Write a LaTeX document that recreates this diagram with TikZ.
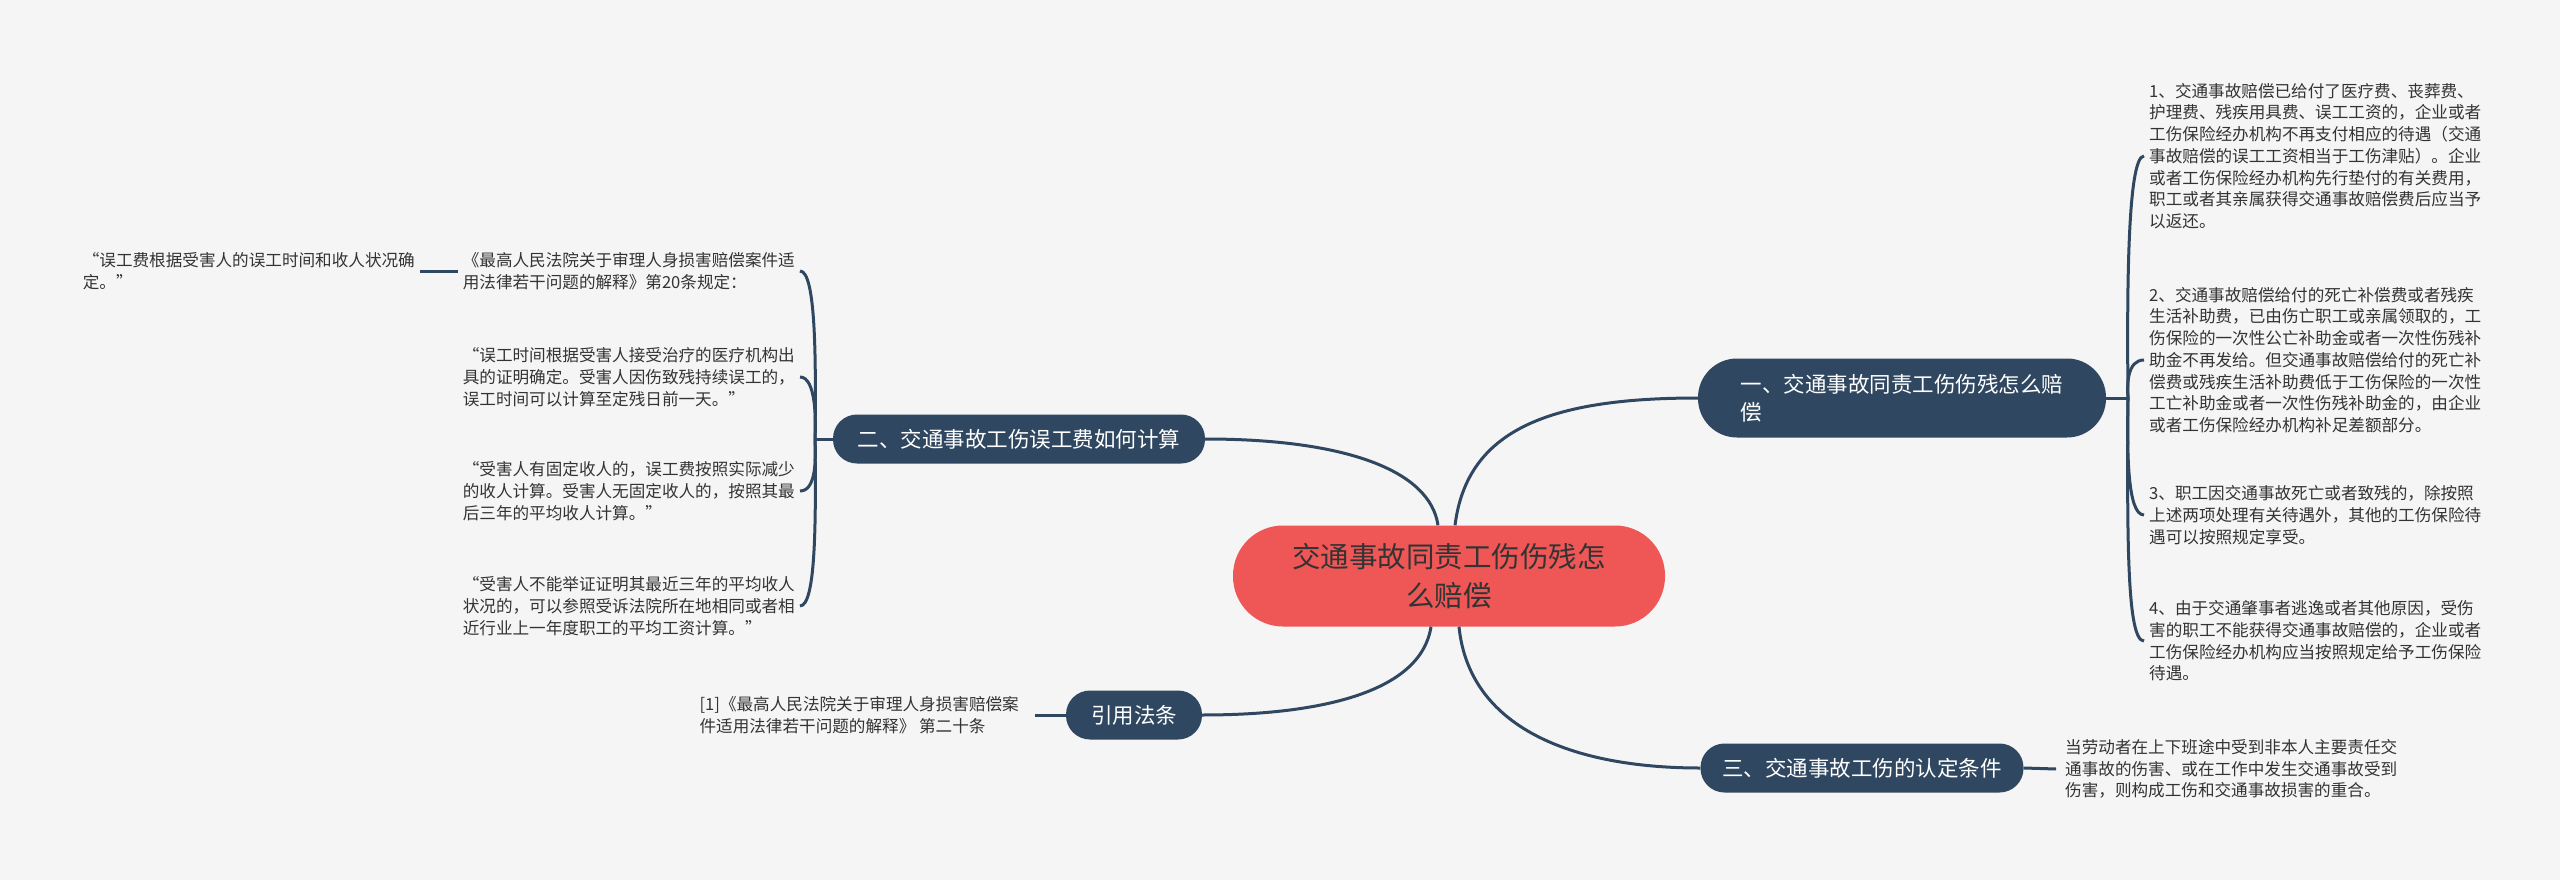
\documentclass[tikz,border=0pt]{standalone}
\usepackage{fontspec}
\setmainfont{Noto Sans CJK SC}
\definecolor{bg}{HTML}{F5F5F5}
\definecolor{navy}{HTML}{2F4760}
\definecolor{redc}{HTML}{EF5656}
\definecolor{txt}{HTML}{333333}
\tikzset{
  conn/.style={draw=navy, line width=3pt},
  topic/.style={fill=navy, text=white, inner sep=0pt, align=left,
    font=\fontsize{21.5}{28}\selectfont, minimum height=49pt, rounded corners=24pt},
  centre/.style={fill=redc, text=txt, inner sep=0pt, align=center,
    font=\fontsize{28.5}{39}\selectfont, minimum width=432pt, minimum height=101pt, rounded corners=50pt},
  leaf/.style={text=txt, inner ysep=0pt, inner xsep=5pt, align=left,
    font=\fontsize{16.6}{21.7}\selectfont}
}
\begin{document}
\begin{tikzpicture}[x=1pt,y=-1pt]
\useasboundingbox (0,0) rectangle (2560,880);
\fill[bg] (0,0) rectangle (2560,880);

% main nodes
\node[centre] (C) at (1449,576) {交通事故同责工伤伤残怎\\么赔偿};
\node[topic, minimum width=408pt, minimum height=79pt, rounded corners=39pt] (N1) at (1902,398) {一、交通事故同责工伤伤残怎么赔\\偿};
\node[topic, minimum width=372pt] (N2) at (1019,439) {二、交通事故工伤误工费如何计算};
\node[topic, minimum width=136pt] (N3) at (1134,715) {引用法条};
\node[topic, minimum width=323pt] (N4) at (1862,768) {三、交通事故工伤的认定条件};

% main connectors
\draw[conn] ([xshift=6pt]C.north) .. controls +(12,-95) and +(-150,0) .. (N1.west);
\draw[conn] ([xshift=-11pt]C.north) .. controls +(-8,-55) and +(140,0) .. (N2.east);
\draw[conn] ([xshift=-18pt]C.south) .. controls +(-10,65) and +(120,0) .. (N3.east);
\draw[conn] ([xshift=10pt]C.south) .. controls +(10,100) and +(-130,0) .. (N4.west);

% right leaves of N1
\node[leaf, anchor=west] (R1) at (2144,156) {1、交通事故赔偿已给付了医疗费、丧葬费、\\护理费、残疾用具费、误工工资的，企业或者\\工伤保险经办机构不再支付相应的待遇（交通\\事故赔偿的误工工资相当于工伤津贴）。企业\\或者工伤保险经办机构先行垫付的有关费用，\\职工或者其亲属获得交通事故赔偿费后应当予\\以返还。};
\node[leaf, anchor=west] (R2) at (2144,360) {2、交通事故赔偿给付的死亡补偿费或者残疾\\生活补助费，已由伤亡职工或亲属领取的，工\\伤保险的一次性公亡补助金或者一次性伤残补\\助金不再发给。但交通事故赔偿给付的死亡补\\偿费或残疾生活补助费低于工伤保险的一次性\\工亡补助金或者一次性伤残补助金的，由企业\\或者工伤保险经办机构补足差额部分。};
\node[leaf, anchor=west] (R3) at (2144,515) {3、职工因交通事故死亡或者致残的，除按照\\上述两项处理有关待遇外，其他的工伤保险待\\遇可以按照规定享受。};
\node[leaf, anchor=west] (R4) at (2144,641) {4、由于交通肇事者逃逸或者其他原因，受伤\\害的职工不能获得交通事故赔偿的，企业或者\\工伤保险经办机构应当按照规定给予工伤保险\\待遇。};

\coordinate (RS) at (2128,398);
\draw[conn] (N1.east) -- (RS);
\draw[conn] (RS) .. controls (2127,300) and (2127,156) .. (R1.west);
\draw[conn] (RS) .. controls (2127,385) and (2127,360) .. (R2.west);
\draw[conn] (RS) .. controls (2127,450) and (2127,515) .. (R3.west);
\draw[conn] (RS) .. controls (2127,540) and (2127,641) .. (R4.west);

% N4 leaf
\node[leaf, anchor=west, inner xsep=9pt] (T4) at (2056,769) {当劳动者在上下班途中受到非本人主要责任交\\通事故的伤害、或在工作中发生交通事故受到\\伤害，则构成工伤和交通事故损害的重合。};
\draw[conn] (N4.east) -- (T4.west);

% N3 leaf
\node[leaf, anchor=east, inner xsep=16pt] (T3) at (1035,715) {[1]《最高人民法院关于审理人身损害赔偿案\\件适用法律若干问题的解释》 第二十条};
\draw[conn] (N3.west) -- (T3.east);

% left leaves of N2
\node[leaf, anchor=east] (L1) at (800,271) {《最高人民法院关于审理人身损害赔偿案件适\\用法律若干问题的解释》第20条规定：};
\node[leaf, anchor=east] (L2) at (800,377) {“误工时间根据受害人接受治疗的医疗机构出\\具的证明确定。受害人因伤致残持续误工的，\\误工时间可以计算至定残日前一天。”};
\node[leaf, anchor=east] (L3) at (800,491) {“受害人有固定收人的，误工费按照实际减少\\的收人计算。受害人无固定收人的，按照其最\\后三年的平均收人计算。”};
\node[leaf, anchor=east] (L4) at (800,606) {“受害人不能举证证明其最近三年的平均收人\\状况的，可以参照受诉法院所在地相同或者相\\近行业上一年度职工的平均工资计算。”};
\node[leaf, anchor=east] (L1c) at (420,271) {“误工费根据受害人的误工时间和收人状况确\\定。”};

\coordinate (LS) at (815,439);
\draw[conn] (N2.west) -- (LS);
\draw[conn] (LS) .. controls (816,360) and (816,271) .. (L1.east);
\draw[conn] (LS) .. controls (816,420) and (816,377) .. (L2.east);
\draw[conn] (LS) .. controls (816,460) and (816,491) .. (L3.east);
\draw[conn] (LS) .. controls (816,520) and (816,606) .. (L4.east);
\draw[conn] (L1.west) -- (L1c.east);
\end{tikzpicture}
\end{document}
